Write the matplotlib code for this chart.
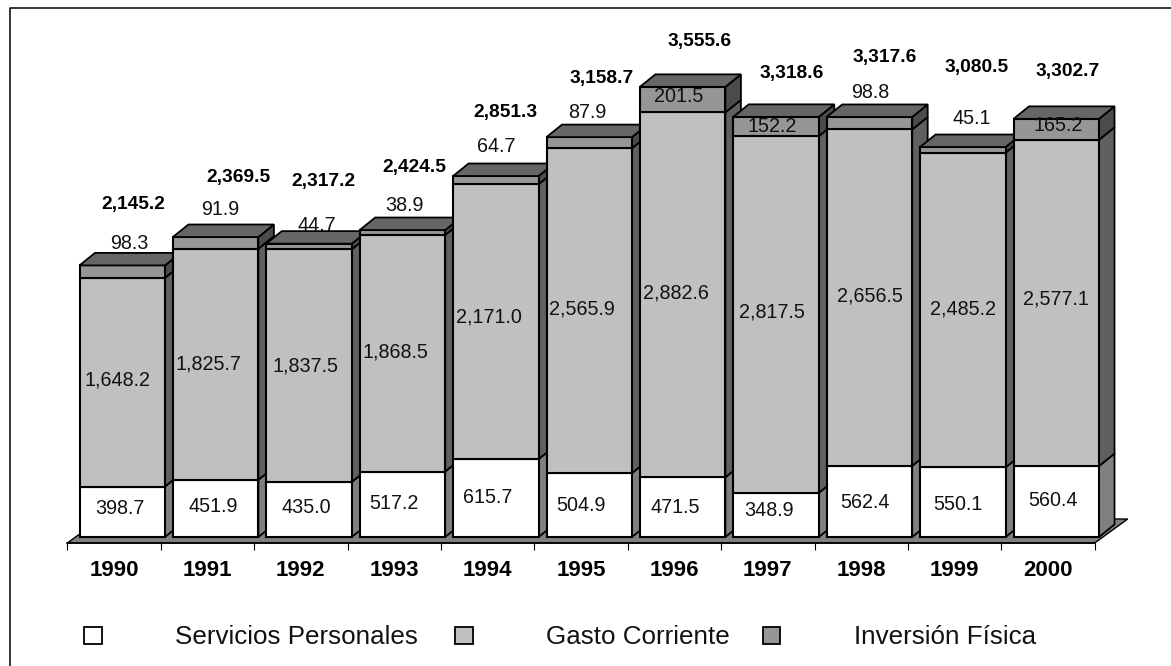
import matplotlib
matplotlib.use("Agg")
import matplotlib.pyplot as plt
from matplotlib.lines import Line2D
from matplotlib.patches import Polygon, Rectangle
import numpy as np

plt.rcParams['font.family'] = ['Liberation Sans', 'DejaVu Sans']

years = ['1990', '1991', '1992', '1993', '1994', '1995', '1996', '1997', '1998', '1999', '2000']
servicios = [398.7, 451.9, 435.0, 517.2, 615.7, 504.9, 471.5, 348.9, 562.4, 550.1, 560.4]
gasto = [1648.2, 1825.7, 1837.5, 1868.5, 2171.0, 2565.9, 2882.6, 2817.5, 2656.5, 2485.2, 2577.1]
inversion = [98.3, 91.9, 44.7, 38.9, 64.7, 87.9, 201.5, 152.2, 98.8, 45.1, 165.2]
totales = [2145.2, 2369.5, 2317.2, 2424.5, 2851.3, 3158.7, 3555.6, 3318.6, 3317.6, 3080.5, 3302.7]
series_names = ['Servicios Personales', 'Gasto Corriente', 'Inversión Física']

# label nudges in pixels, from the segment middle or the column top
serv_off = [(-2.5, 3), (-2.5, 2), (-3, 1.5), (-9, 1), (-8.5, 1), (-8, 0), (-7, 0), (-7, 4), (-4.5, -1.5), (-4.5, -2), (-3, 1.5)]
gasto_off = [(-5, 2), (-7, 0), (-4, 0), (-7, 1), (-7, 4.5), (-7, 2), (-7, 2), (-4, 2), (0, 2), (0, 1), (0, 4)]
inv_off = [(7, 22), (4.5, 28), (8, 18), (2, 25), (0, 30), (-2, 25), (-4, -10), (-4, -10), (1, 24), (8.5, 29), (2, -7)]
tot_off = [(11, 61), (22.5, 60), (14, 62.6), (12, 63), (9.5, 64), (12, 59), (17, 45), (16, 43), (15, 59), (13.5, 80), (11, 47)]

W, H = 1171, 666
PX_PER_UNIT = 0.1266
PX_PER_CAT = 93.4
BASE_GAP = 6       # px between the floor front edge and the column feet
AX_LEFT, AX_BOTTOM = 67.3, 543
BAR_LEFT, BAR_W = 12.2, 85.5     # px inside each category
DEPTH_X, DEPTH_Y = 15.5, 12.5

fig = plt.figure(figsize=(W / 100, H / 100), dpi=100)
ax = fig.add_axes([AX_LEFT / W, (H - AX_BOTTOM) / H, PX_PER_CAT * 11 / W, AX_BOTTOM / H])
ax.set_xlim(0, 11)
ax.set_ylim(-BASE_GAP / PX_PER_UNIT, (AX_BOTTOM - BASE_GAP) / PX_PER_UNIT)
ax.patch.set_alpha(0)
for name in ['top', 'left', 'right']:
    ax.spines[name].set_visible(False)
ax.spines['bottom'].set_linewidth(1.2)
ax.set_yticks([])

ax.set_xticks(np.arange(12))
ax.set_xticklabels([])
ax.tick_params(axis='x', which='major', length=5, width=0.8)
ax.set_xticks(np.arange(11) + 0.5, minor=True)
ax.set_xticklabels(years, minor=True, fontsize=16, fontweight='bold')
ax.tick_params(axis='x', which='minor', length=0, pad=12)

dx = DEPTH_X / PX_PER_CAT
dy = DEPTH_Y / PX_PER_UNIT
y0 = -BASE_GAP / PX_PER_UNIT

# floor
floor = Polygon([(0, y0), (11, y0), (11 + 33 / PX_PER_CAT, 24 / PX_PER_UNIT + y0), (33 / PX_PER_CAT, 24 / PX_PER_UNIT + y0)],
                facecolor='#808080', edgecolor='black', linewidth=1.0, zorder=1, clip_on=False)
ax.add_patch(floor)

front_colors = ['#FFFFFF', '#C0C0C0', '#969696']
side_colors = ['#808080', '#606060', '#4B4B4B']
top_color = '#666666'

for i in range(len(years)):
    left = i + BAR_LEFT / PX_PER_CAT
    right = left + BAR_W / PX_PER_CAT
    bottom = 0
    z = 3 + i
    for vals, fc, sc in zip([servicios, gasto, inversion], front_colors, side_colors):
        top = bottom + vals[i]
        ax.add_patch(Polygon([(right, bottom), (right + dx, bottom + dy), (right + dx, top + dy), (right, top)],
                             facecolor=sc, edgecolor='black', linewidth=1.3, zorder=z, clip_on=False))
        ax.add_patch(Rectangle((left, bottom), right - left, top - bottom,
                               facecolor=fc, edgecolor='black', linewidth=1.5, zorder=z, clip_on=False))
        bottom = top
    ax.add_patch(Polygon([(left, bottom), (right, bottom), (right + dx, bottom + dy), (left + dx, bottom + dy)],
                         facecolor=top_color, edgecolor='black', linewidth=1.3, zorder=z, clip_on=False))

# value labels
for i in range(len(years)):
    cx = i + (BAR_LEFT + BAR_W / 2) / PX_PER_CAT
    s, g, v, t = servicios[i], gasto[i], inversion[i], totales[i]
    col_top = s + g + v
    ax.annotate(f'{s:,.1f}', (cx, s / 2), xytext=serv_off[i], textcoords='offset pixels',
                ha='center', va='center', fontsize=14.2, color='#111111', zorder=30)
    ax.annotate(f'{g:,.1f}', (cx, s + g / 2), xytext=gasto_off[i], textcoords='offset pixels',
                ha='center', va='center', fontsize=14.2, color='#111111', zorder=30)
    ax.annotate(f'{v:,.1f}', (cx, col_top), xytext=inv_off[i], textcoords='offset pixels',
                ha='center', va='center', fontsize=14.2, color='#111111', zorder=30)
    ax.annotate(f'{t:,.1f}', (cx, col_top), xytext=tot_off[i], textcoords='offset pixels',
                ha='center', va='center', fontsize=13.8, fontweight='bold', color='black', zorder=30)

# legend, spaced by hand like the original
legend_box_x = [84, 455, 763]
legend_text_x = [175, 546, 854]
legend_y = 635
for name, fc, bx, tx in zip(series_names, front_colors, legend_box_x, legend_text_x):
    fig.add_artist(Rectangle((bx / W, (H - legend_y - 9) / H), 17.5 / W, 17.5 / H, transform=fig.transFigure,
                             facecolor=fc, edgecolor='black', linewidth=1.3))
    fig.text(tx / W, (H - legend_y + 0.5) / H, name, ha='left', va='center_baseline', fontsize=18.7, color='#111111')

# outer frame, only top and left show in the original
fig.add_artist(Line2D([9.5 / W, 9.5 / W, 1], [0, (H - 7.5) / H, (H - 7.5) / H], transform=fig.transFigure,
                      color='black', linewidth=1.1))

fig.savefig('out.png', dpi=100)
